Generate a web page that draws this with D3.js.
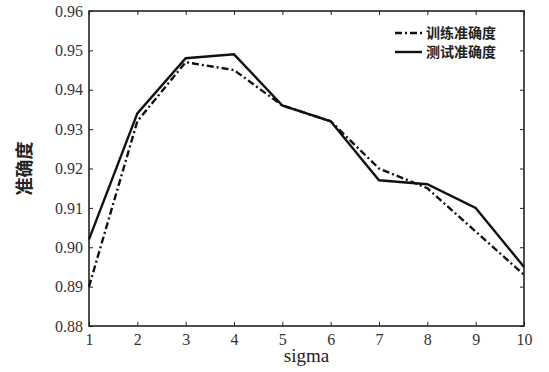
<!DOCTYPE html>
<html>
<head>
<meta charset="utf-8">
<script src="https://cdn.jsdelivr.net/npm/d3@7"></script>
<style>
  body { margin: 0; background: #fff; }
  svg { display: block; }
</style>
</head>
<body>
<svg id="chart"></svg>
<script>
const sigma = [1, 2, 3, 4, 5, 6, 7, 8, 9, 10];
const trainAcc = [0.890, 0.932, 0.947, 0.945, 0.936, 0.932, 0.920, 0.915, 0.904, 0.893];
const testAcc = [0.902, 0.934, 0.948, 0.949, 0.936, 0.932, 0.917, 0.916, 0.910, 0.895];
const yTicks = [0.88, 0.89, 0.90, 0.91, 0.92, 0.93, 0.94, 0.95, 0.96];
const seriesNames = ['训练准确度', '测试准确度'];

const width = 549, height = 372;
const margin = { top: 11, right: 25, bottom: 46, left: 89 };
const serif = '"Liberation Serif", "DejaVu Serif", serif';
const cjk = '"Noto Sans CJK SC", sans-serif';

const svg = d3.select('#chart')
  .attr('width', width)
  .attr('height', height);

const x = d3.scaleLinear()
  .domain([1, 10])
  .range([margin.left, width - margin.right]);

const y = d3.scaleLinear()
  .domain([0.88, 0.96])
  .range([height - margin.bottom, margin.top]);

// mirror ticks on all four sides, pointing inward
const tickLen = 4;
const axisBottom = d3.axisBottom(x).tickValues(sigma).tickSize(-tickLen).tickPadding(8).tickFormat(d3.format('d'));
const axisTop = d3.axisTop(x).tickValues(sigma).tickSize(-tickLen).tickFormat('');
const axisLeft = d3.axisLeft(y).tickValues(yTicks).tickSize(-tickLen).tickPadding(6).tickFormat(d3.format('.2f'));
const axisRight = d3.axisRight(y).tickValues(yTicks).tickSize(-tickLen).tickFormat('');

function styleAxis(g) {
  g.select('.domain').remove();
  g.selectAll('line').attr('stroke', '#222').attr('stroke-width', 1);
  g.selectAll('text').attr('fill', '#333').style('font-family', serif).style('font-size', '16px');
}

svg.append('g').attr('transform', `translate(0,${height - margin.bottom})`).call(axisBottom).call(styleAxis);
svg.append('g').attr('transform', `translate(0,${margin.top})`).call(axisTop).call(styleAxis);
svg.append('g').attr('transform', `translate(${margin.left},0)`).call(axisLeft).call(styleAxis);
svg.append('g').attr('transform', `translate(${width - margin.right},0)`).call(axisRight).call(styleAxis);

svg.append('rect')
  .attr('x', margin.left)
  .attr('y', margin.top)
  .attr('width', width - margin.left - margin.right)
  .attr('height', height - margin.top - margin.bottom)
  .attr('fill', 'none')
  .attr('stroke', '#222')
  .attr('stroke-width', 1.6);

const line = d3.line()
  .x((d, i) => x(sigma[i]))
  .y(d => y(d));

svg.append('path')
  .datum(trainAcc)
  .attr('d', line)
  .attr('fill', 'none')
  .attr('stroke', '#111')
  .attr('stroke-width', 2.4)
  .attr('stroke-dasharray', '7,3,2,3');

svg.append('path')
  .datum(testAcc)
  .attr('d', line)
  .attr('fill', 'none')
  .attr('stroke', '#111')
  .attr('stroke-width', 2.4);

// axis titles
svg.append('text')
  .attr('x', x(5.5))
  .attr('y', 362)
  .attr('text-anchor', 'middle')
  .attr('fill', '#222')
  .style('font-family', serif)
  .style('font-size', '19px')
  .text('sigma');

svg.append('text')
  .attr('transform', `translate(31,${y(0.92)}) rotate(-90)`)
  .attr('text-anchor', 'middle')
  .attr('fill', '#222')
  .style('font-family', cjk)
  .style('font-weight', 'bold')
  .style('font-size', '18px')
  .text('准确度');

// legend
const legend = svg.append('g');
const dashes = ['7,3,2,3', null];
seriesNames.forEach((name, i) => {
  const ly = 33 + i * 19;
  legend.append('line')
    .attr('x1', 395).attr('x2', 422)
    .attr('y1', ly).attr('y2', ly)
    .attr('stroke', '#111')
    .attr('stroke-width', 2.4)
    .attr('stroke-dasharray', dashes[i]);
  legend.append('text')
    .attr('x', 426)
    .attr('y', ly + 5)
    .attr('fill', '#222')
    .style('font-family', cjk)
    .style('font-weight', 'bold')
    .style('font-size', '14px')
    .text(name);
});
</script>
</body>
</html>
